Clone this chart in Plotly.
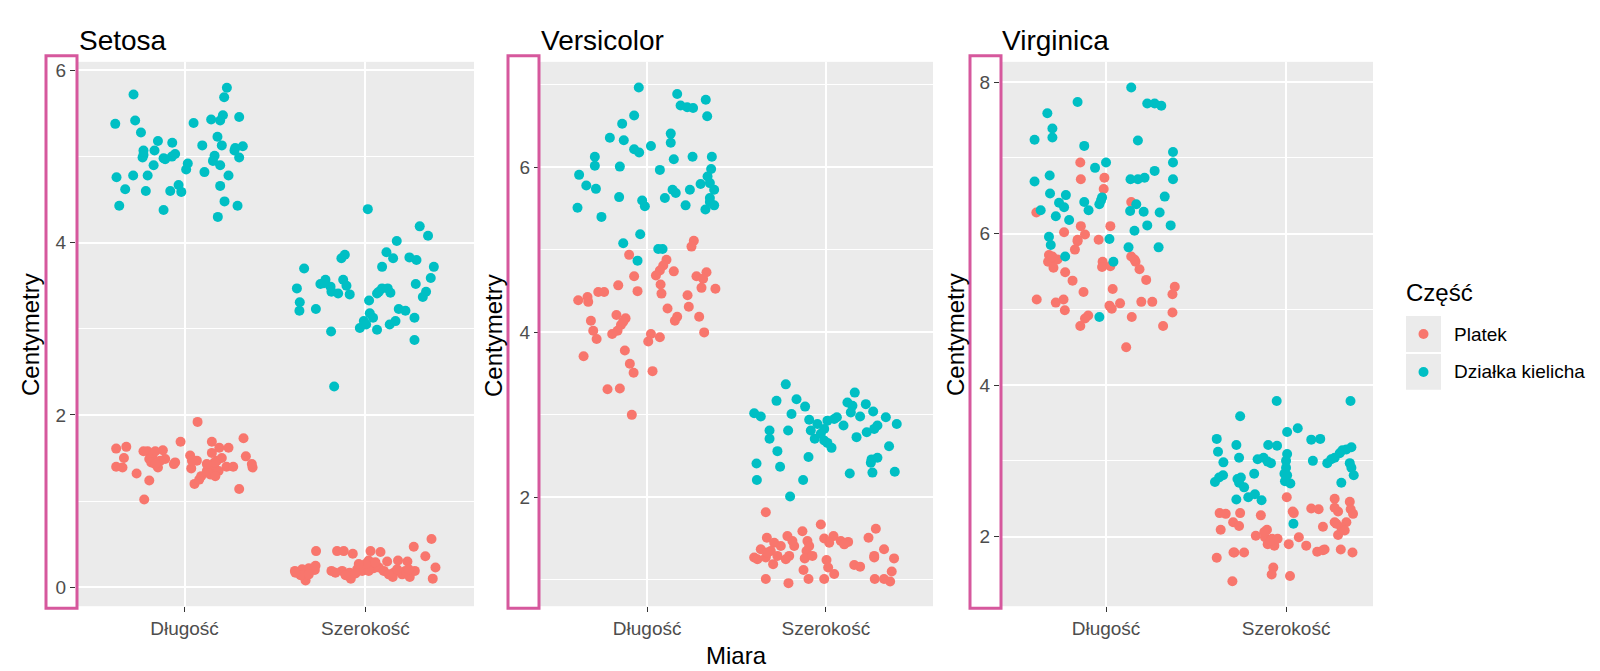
import plotly.graph_objects as go

# jittered iris measurements read off the picture
# dx = horizontal jitter around the category, values in cm
categories = ["Długość", "Szerokość"]
species = ["Setosa", "Versicolor", "Virginica"]
parts = ["Platek", "Działka kielicha"]
colors = ["#F8766D", "#00BFC4"]

setosa_sep_len_dx = [-0.282, 0.234, 0.219, -0.383, -0.273, -0.241, 0.050, 0.147, 0.197, 0.212,
                     0.302, -0.147, -0.068, -0.227, -0.166, -0.232, -0.116, -0.070, -0.052, 0.182,
                     0.206, 0.098, 0.276, 0.322, 0.302, 0.166, 0.157, 0.197, 0.018, 0.009,
                     -0.171, 0.110, 0.243, -0.376, -0.284, -0.204, -0.328, -0.214, -0.079, -0.033,
                     -0.018, 0.197, 0.221, 0.293, -0.361, -0.116, 0.184, -0.107, -0.227, 0.280]
setosa_sep_len = [5.72, 5.80, 5.69, 5.38, 5.42, 5.28, 5.39, 5.43, 5.42, 5.48,
                  5.46, 5.18, 5.16, 5.07, 5.07, 4.99, 4.98, 5.00, 5.03, 5.23,
                  5.13, 5.13, 5.07, 5.12, 4.99, 5.01, 4.95, 4.90, 4.92, 4.85,
                  4.90, 4.82, 4.78, 4.76, 4.78, 4.78, 4.62, 4.60, 4.60, 4.67,
                  4.59, 4.66, 4.48, 4.43, 4.43, 4.38, 4.30, 4.97, 5.02, 5.10]
setosa_sep_wid_dx = [0.013, 0.300, 0.346, 0.173, -0.114, -0.133, 0.116, 0.153, 0.243, 0.282,
                     0.378, -0.339, 0.092, 0.361, 0.278, 0.335, 0.317, -0.379, -0.221, -0.249,
                     -0.193, -0.188, -0.151, -0.123, -0.105, -0.087, -0.363, -0.365, -0.274, 0.020,
                     0.064, 0.092, 0.123, 0.138, 0.024, 0.042, -0.009, -0.031, 0.064, 0.184,
                     0.221, 0.271, 0.134, 0.166, -0.190, 0.271, -0.173, 0.074, 0.004, -0.230]
setosa_sep_wid = [4.39, 4.19, 4.08, 4.02, 3.86, 3.82, 3.89, 3.82, 3.83, 3.80,
                  3.72, 3.70, 3.72, 3.59, 3.52, 3.43, 3.37, 3.47, 3.57, 3.52,
                  3.49, 3.43, 3.41, 3.57, 3.50, 3.40, 3.31, 3.21, 3.23, 3.33,
                  3.41, 3.47, 3.47, 3.42, 3.18, 3.13, 3.09, 3.01, 2.99, 3.23,
                  3.21, 3.13, 3.05, 3.09, 2.97, 2.87, 2.33, 3.43, 3.05, 3.53]
setosa_pet_len_dx = [0.072, -0.378, -0.322, -0.335, -0.378, -0.343, -0.265, -0.195, -0.223, -0.204,
                     -0.177, -0.162, -0.120, -0.195, -0.147, -0.107, -0.059, -0.022, 0.031, 0.068,
                     0.037, 0.151, 0.192, 0.243, 0.326, 0.339, 0.376, 0.179, 0.166, 0.142,
                     0.092, 0.055, 0.232, 0.269, 0.302, 0.188, 0.123, -0.134, 0.206, 0.081,
                     -0.184, 0.166, 0.041, -0.227, 0.170, -0.162, 0.151, 0.372, -0.052, 0.123]
setosa_pet_len = [1.92, 1.61, 1.63, 1.50, 1.40, 1.39, 1.32, 1.24, 1.02, 1.58,
                  1.53, 1.58, 1.59, 1.49, 1.39, 1.49, 1.43, 1.69, 1.53, 1.47,
                  1.38, 1.69, 1.62, 1.62, 1.73, 1.52, 1.39, 1.47, 1.39, 1.31,
                  1.29, 1.20, 1.40, 1.40, 1.14, 1.35, 1.35, 1.47, 1.50, 1.25,
                  1.45, 1.45, 1.47, 1.58, 1.29, 1.43, 1.56, 1.43, 1.45, 1.43]
setosa_pet_wid_dx = [0.365, 0.267, 0.331, 0.387, 0.372, -0.273, -0.157, -0.120, -0.070, 0.028,
                     0.083, 0.120, 0.180, 0.232, -0.390, -0.350, -0.313, -0.280, -0.331, -0.188,
                     -0.129, -0.088, -0.081, -0.046, -0.009, 0.018, 0.046, 0.074, 0.157, 0.151,
                     0.203, 0.245, 0.273, -0.018, 0.018, -0.055, -0.359, -0.313, 0.000, 0.221,
                     -0.110, 0.055, 0.175, -0.387, -0.037, 0.101, 0.239, 0.129, -0.166, -0.276]
setosa_pet_wid = [0.56, 0.47, 0.36, 0.23, 0.10, 0.42, 0.42, 0.42, 0.39, 0.42,
                  0.41, 0.30, 0.31, 0.30, 0.19, 0.21, 0.22, 0.20, 0.08, 0.19,
                  0.19, 0.17, 0.10, 0.21, 0.25, 0.31, 0.22, 0.23, 0.17, 0.12,
                  0.15, 0.12, 0.19, 0.19, 0.19, 0.16, 0.14, 0.15, 0.27, 0.19,
                  0.14, 0.29, 0.21, 0.17, 0.27, 0.19, 0.21, 0.15, 0.17, 0.25]

versi_sep_len_dx = [-0.047, 0.168, 0.187, 0.224, 0.257, 0.328, 0.336, -0.073, -0.140, -0.209,
                    -0.131, 0.132, 0.132, 0.021, -0.073, -0.045, -0.293, -0.293, -0.153, 0.149,
                    0.254, 0.362, 0.358, 0.071, -0.381, -0.341, -0.287, 0.338, 0.299, 0.351,
                    0.375, 0.142, 0.160, 0.239, 0.099, -0.157, -0.028, -0.013, -0.390, -0.256,
                    0.215, 0.326, 0.351, 0.375, -0.039, -0.134, 0.062, 0.086, -0.054, 0.351]
versi_sep_len = [6.97, 6.89, 6.75, 6.73, 6.72, 6.82, 6.62, 6.63, 6.53, 6.36,
                 6.33, 6.41, 6.30, 6.26, 6.22, 6.18, 6.13, 6.02, 6.01, 6.10,
                 6.13, 6.13, 5.98, 5.97, 5.91, 5.78, 5.74, 5.89, 5.80, 5.81,
                 5.73, 5.73, 5.69, 5.73, 5.63, 5.64, 5.60, 5.53, 5.51, 5.40,
                 5.54, 5.49, 5.58, 5.54, 5.19, 5.08, 5.01, 5.01, 4.87, 5.63]
versi_sep_wid_dx = [-0.224, -0.276, -0.164, -0.116, -0.401, -0.364, -0.192, -0.093, -0.315, -0.315,
                    -0.211, -0.084, -0.047, -0.009, 0.009, 0.062, 0.099, -0.062, -0.009, 0.009,
                    0.032, 0.162, 0.121, 0.149, 0.224, 0.265, 0.140, 0.192, 0.336, 0.397,
                    0.289, 0.271, 0.229, 0.172, 0.354, 0.289, 0.256, 0.252, -0.271, -0.097,
                    -0.388, -0.256, -0.386, -0.127, 0.134, 0.261, 0.386, -0.200, -0.028, 0.047]
versi_sep_wid = [3.37, 3.17, 3.19, 3.10, 3.02, 2.98, 3.01, 2.94, 2.81, 2.71,
                 2.81, 2.81, 2.89, 2.83, 2.93, 2.97, 2.87, 2.71, 2.69, 2.66,
                 2.60, 3.27, 3.15, 3.11, 3.13, 3.04, 3.03, 2.98, 2.97, 2.89,
                 2.87, 2.83, 2.79, 2.73, 2.62, 2.48, 2.46, 2.42, 2.56, 2.49,
                 2.41, 2.37, 2.21, 2.21, 2.29, 2.30, 2.31, 2.01, 2.77, 2.95]
versi_pet_len_dx = [0.261, 0.248, -0.101, 0.108, 0.090, 0.071, 0.149, 0.049, -0.073, 0.276,
                    0.332, 0.313, 0.304, 0.382, 0.075, 0.080, -0.162, -0.054, -0.386, -0.334,
                    -0.330, -0.274, -0.241, 0.226, 0.233, 0.114, 0.168, 0.155, 0.291, 0.319,
                    -0.315, -0.302, -0.283, -0.172, -0.121, -0.147, -0.166, -0.196, 0.021, 0.071,
                    0.006, -0.356, -0.125, -0.097, -0.076, 0.030, -0.222, -0.153, -0.086, -0.134]
versi_pet_len = [5.11, 5.04, 4.94, 4.88, 4.81, 4.75, 4.74, 4.69, 4.68, 4.68,
                 4.73, 4.65, 4.54, 4.53, 4.58, 4.47, 4.57, 4.50, 4.39, 4.43,
                 4.37, 4.49, 4.49, 4.45, 4.31, 4.29, 4.19, 4.14, 4.19, 4.00,
                 4.14, 4.02, 3.92, 4.21, 4.17, 4.09, 4.02, 3.98, 3.98, 3.94,
                 3.89, 3.71, 3.78, 3.62, 3.51, 3.53, 3.31, 3.32, 3.00, 4.13]
versi_pet_wid_dx = [-0.336, -0.028, -0.131, 0.280, 0.239, -0.330, -0.215, -0.289, -0.103, -0.009,
                    0.043, 0.084, 0.125, -0.364, -0.308, -0.401, -0.336, -0.271, -0.205, -0.295,
                    -0.108, -0.118, 0.004, 0.013, -0.125, -0.009, -0.097, -0.209, -0.336, 0.047,
                    0.159, 0.192, 0.326, 0.271, 0.382, 0.369, 0.274, 0.326, 0.360, -0.252,
                    -0.177, -0.224, -0.093, 0.019, 0.103, -0.327, -0.383, -0.075, -0.187, 0.271]
versi_pet_wid = [1.82, 1.67, 1.59, 1.62, 1.51, 1.51, 1.53, 1.45, 1.47, 1.50,
                 1.53, 1.47, 1.46, 1.37, 1.35, 1.27, 1.27, 1.29, 1.29, 1.19,
                 1.35, 1.26, 1.24, 1.15, 1.12, 1.01, 1.01, 0.96, 1.01, 1.07,
                 1.18, 1.16, 1.37, 1.27, 1.26, 1.10, 1.01, 1.01, 0.98, 1.41,
                 1.41, 1.25, 1.41, 1.45, 1.43, 1.33, 1.25, 1.29, 1.47, 1.29]

virg_sep_len_dx = [0.140, 0.229, 0.270, 0.307, -0.158, -0.326, -0.298, -0.298, -0.397, 0.177,
                   -0.121, 0.372, 0.372, 0.000, -0.061, 0.270, -0.313, -0.397, 0.136, 0.177,
                   0.214, 0.372, -0.311, -0.223, -0.261, -0.233, -0.363, -0.121, -0.097, -0.037,
                   -0.022, -0.279, -0.205, 0.326, 0.168, 0.134, 0.209, 0.298, 0.229, 0.359,
                   0.158, 0.019, -0.317, -0.307, 0.125, 0.292, -0.227, 0.041, -0.037, -0.028]
virg_sep_len = [7.93, 7.72, 7.72, 7.69, 7.74, 7.59, 7.39, 7.27, 7.24, 7.23,
                7.16, 7.08, 6.94, 6.94, 6.87, 6.83, 6.77, 6.69, 6.72, 6.72,
                6.74, 6.72, 6.53, 6.51, 6.41, 6.35, 6.31, 6.42, 6.31, 6.39,
                6.48, 6.23, 6.18, 6.49, 6.39, 6.30, 6.29, 6.28, 6.11, 6.11,
                6.04, 5.93, 5.96, 5.85, 5.82, 5.82, 5.70, 5.63, 4.90, 6.44]
virg_sep_wid_dx = [-0.052, 0.358, -0.255, 0.006, 0.065, -0.385, -0.276, 0.140, 0.190, -0.099,
                   -0.050, -0.378, -0.261, -0.348, -0.158, -0.125, -0.084, 0.006, 0.000, 0.000,
                   0.006, 0.024, 0.149, 0.229, 0.270, 0.313, 0.363, 0.354, 0.376, 0.307,
                   -0.350, -0.395, -0.251, -0.261, -0.233, -0.177, -0.276, -0.210, -0.173, -0.136,
                   0.041, -0.009, 0.251, 0.335, -0.270, -0.102, -0.006, -0.372, 0.363, 0.298]
virg_sep_wid = [3.79, 3.79, 3.59, 3.38, 3.43, 3.29, 3.21, 3.28, 3.29, 3.21,
                3.20, 3.12, 3.04, 2.98, 3.02, 3.04, 2.97, 3.09, 3.00, 2.91,
                2.81, 2.70, 3.00, 2.97, 3.04, 3.14, 3.18, 2.97, 2.81, 2.71,
                2.81, 2.72, 2.78, 2.71, 2.65, 2.83, 2.49, 2.52, 2.56, 2.48,
                2.17, 2.83, 3.02, 3.15, 2.76, 2.99, 2.73, 2.78, 2.91, 3.10]
virg_pet_len_dx = [-0.143, -0.140, -0.009, -0.013, 0.140, -0.387, -0.140, 0.024, -0.233, -0.117,
                   -0.158, -0.041, -0.173, -0.317, -0.298, -0.322, -0.270, -0.292, -0.227, -0.186,
                   -0.019, -0.022, 0.024, 0.140, 0.164, 0.186, 0.223, 0.037, -0.125, 0.382,
                   0.369, -0.385, -0.279, -0.236, -0.229, 0.019, 0.032, 0.078, 0.196, 0.257,
                   0.369, -0.099, -0.117, -0.143, 0.143, 0.317, 0.112, 0.158, -0.158, -0.298]
virg_pet_len = [6.94, 6.72, 6.74, 6.59, 6.42, 6.28, 6.10, 6.10, 6.02, 5.99,
                5.90, 5.92, 5.79, 5.72, 5.66, 5.63, 5.66, 5.55, 5.49, 5.38,
                5.63, 5.56, 5.57, 5.70, 5.63, 5.53, 5.39, 5.27, 5.23, 5.30,
                5.20, 5.13, 5.09, 5.13, 4.99, 5.05, 5.01, 5.08, 5.10, 5.10,
                4.96, 4.92, 4.88, 4.78, 4.90, 4.78, 4.50, 5.66, 5.92, 5.70]
virg_pet_wid_dx = [0.004, 0.270, 0.354, 0.359, 0.372, 0.289, 0.140, 0.181, 0.037, 0.043,
                   -0.369, -0.335, -0.255, -0.140, -0.294, -0.261, -0.363, 0.205, 0.270, 0.335,
                   0.307, 0.289, -0.106, -0.168, -0.117, -0.078, -0.102, -0.065, 0.015, 0.071,
                   0.112, 0.173, 0.214, 0.304, 0.369, -0.292, -0.233, -0.385, -0.071, -0.080,
                   0.022, -0.298, -0.084, 0.326, -0.287, -0.121, 0.279, 0.205, -0.047, 0.270]
virg_pet_wid = [2.52, 2.50, 2.46, 2.36, 2.30, 2.33, 2.37, 2.36, 2.33, 2.31,
                2.31, 2.30, 2.31, 2.28, 2.19, 2.14, 2.09, 2.13, 2.19, 2.19,
                2.12, 2.02, 2.09, 2.01, 1.99, 1.97, 1.90, 1.88, 1.90, 1.99,
                1.88, 1.80, 1.83, 1.83, 1.79, 1.79, 1.79, 1.72, 1.59, 1.50,
                1.48, 1.41, 1.95, 2.08, 1.79, 2.06, 2.17, 1.82, 1.97, 2.38]

# (Długość, Szerokość) per species and part
panels = [
    ((setosa_pet_len_dx, setosa_pet_len, setosa_pet_wid_dx, setosa_pet_wid),
     (setosa_sep_len_dx, setosa_sep_len, setosa_sep_wid_dx, setosa_sep_wid)),
    ((versi_pet_len_dx, versi_pet_len, versi_pet_wid_dx, versi_pet_wid),
     (versi_sep_len_dx, versi_sep_len, versi_sep_wid_dx, versi_sep_wid)),
    ((virg_pet_len_dx, virg_pet_len, virg_pet_wid_dx, virg_pet_wid),
     (virg_sep_len_dx, virg_sep_len, virg_sep_wid_dx, virg_sep_wid)),
]

W, H = 1600, 671
FONT = "Liberation Sans, Arial, sans-serif"

# pixel layout of the three panels
px_x = [(68, 466), (532, 925), (992, 1365)]
px_y = (52, 598)
x_ranges = [[0.4, 2.6], [0.4, 2.6], [0.411, 2.483]]
y_ranges = [[-0.22, 6.10], [0.68, 7.28], [1.08, 8.27]]


def fx(px):
    return px / W


def fy(py):
    return 1 - py / H


fig = go.Figure()

for i, (pet, sep) in enumerate(panels):
    ax = "" if i == 0 else str(i + 1)
    for j, grp in enumerate([pet, sep]):
        dx1, y1, dx2, y2 = grp
        xs = [1 + d for d in dx1] + [2 + d for d in dx2]
        ys = list(y1) + list(y2)
        fig.add_trace(go.Scatter(
            x=xs, y=ys, mode="markers",
            marker=dict(size=10, color=colors[j], line=dict(width=0)),
            name=parts[j], showlegend=False,
            xaxis="x" + ax, yaxis="y" + ax,
        ))

    common = dict(
        showgrid=True, gridcolor="white", zeroline=False, showline=False,
        ticks="outside", ticklen=5, tickwidth=1.2, tickcolor="#333333",
        tickfont=dict(family=FONT, size=19, color="#4D4D4D"),
    )
    fig.layout["xaxis" + ax] = dict(
        common, domain=[fx(px_x[i][0]), fx(px_x[i][1])], range=x_ranges[i],
        tickmode="array", tickvals=[1, 2], ticktext=categories,
        gridwidth=2, anchor="y" + ax,
    )
    fig.layout["yaxis" + ax] = dict(
        common, domain=[fy(px_y[1]), fy(px_y[0])], range=y_ranges[i],
        tick0=0, dtick=2, gridwidth=2, anchor="x" + ax,
        minor=dict(dtick=1, tick0=0, showgrid=True, gridcolor="white",
                   gridwidth=1.1, ticks=""),
    )

shapes = []
annotations = []

# panel titles and y-axis titles
title_x = [69, 531, 992]
ylab_x = [22, 485, 947]
pink_x = [(38, 69), (500, 531), (962, 993)]
for i in range(3):
    annotations.append(dict(
        text=species[i], x=fx(title_x[i]), y=fy(31), xref="paper", yref="paper",
        xanchor="left", yanchor="middle", showarrow=False,
        font=dict(family=FONT, size=28, color="black"),
    ))
    annotations.append(dict(
        text="Centymetry", x=fx(ylab_x[i]), y=fy(326), xref="paper", yref="paper",
        xanchor="center", yanchor="middle", textangle=-90, showarrow=False,
        font=dict(family=FONT, size=24, color="black"),
    ))
    shapes.append(dict(
        type="rect", xref="paper", yref="paper",
        x0=fx(pink_x[i][0]), x1=fx(pink_x[i][1]), y0=fy(600), y1=fy(46),
        line=dict(color="#D6589D", width=3), fillcolor="rgba(0,0,0,0)",
    ))

annotations.append(dict(
    text="Miara", x=fx(728), y=fy(647), xref="paper", yref="paper",
    xanchor="center", yanchor="middle", showarrow=False,
    font=dict(family=FONT, size=24, color="black"),
))

# legend drawn by hand so the keys get their grey boxes
annotations.append(dict(
    text="Część", x=fx(1396), y=fy(283), xref="paper", yref="paper",
    xanchor="left", yanchor="middle", showarrow=False,
    font=dict(family=FONT, size=24, color="black"),
))
key_y = [325, 363]
for j in range(2):
    shapes.append(dict(
        type="rect", xref="paper", yref="paper",
        x0=fx(1398), x1=fx(1433), y0=fy(key_y[j] + 18), y1=fy(key_y[j] - 18),
        line=dict(width=0), fillcolor="#EBEBEB",
    ))
    shapes.append(dict(
        type="circle", xref="paper", yref="paper",
        x0=fx(1410.5), x1=fx(1420.5), y0=fy(key_y[j] + 5), y1=fy(key_y[j] - 5),
        line=dict(width=0), fillcolor=colors[j],
    ))
    annotations.append(dict(
        text=parts[j], x=fx(1444), y=fy(key_y[j]), xref="paper", yref="paper",
        xanchor="left", yanchor="middle", showarrow=False,
        font=dict(family=FONT, size=19, color="black"),
    ))

fig.update_layout(
    width=W, height=H,
    margin=dict(l=0, r=0, t=0, b=0),
    paper_bgcolor="white", plot_bgcolor="#EBEBEB",
    font=dict(family=FONT),
    showlegend=False,
    shapes=shapes, annotations=annotations,
)

fig.write_html("out.html")
